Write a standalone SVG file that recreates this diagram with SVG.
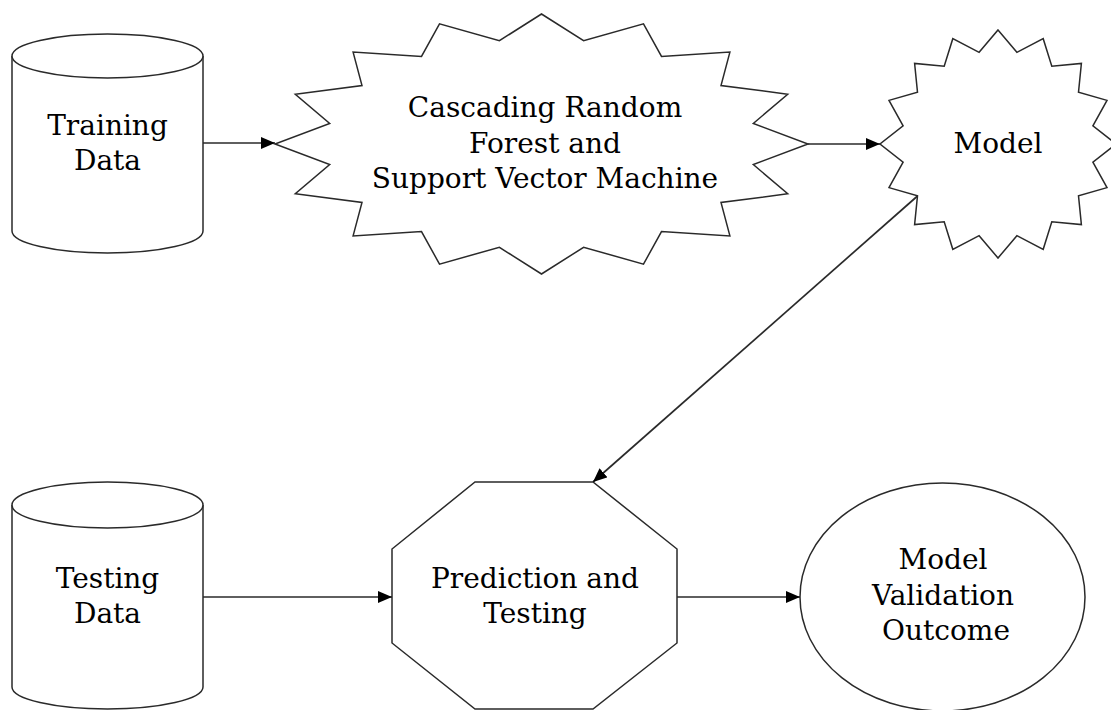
<svg xmlns="http://www.w3.org/2000/svg" width="1111" height="710" viewBox="0 0 1111 710">
<defs>
<style>
.shape{fill:#fff;stroke:#2a2a2a;stroke-width:1.5}
.lbl{font-family:"DejaVu Serif","Liberation Serif",serif;font-size:28px;fill:#000;text-anchor:middle}
.conn{fill:none;stroke:#2a2a2a;stroke-width:1.7}
</style>
<marker id="arr" markerUnits="userSpaceOnUse" markerWidth="14" markerHeight="12" viewBox="0 0 14 12" refX="14" refY="6" orient="auto">
<path d="M0,0 L14,6 L0,12 Z" fill="#000"/>
</marker>
</defs>
<rect width="1111" height="710" fill="#fff"/>
<g id="training-data">
<path class="shape" d="M12,56 L12,231 A95.5,22 0 0 0 203,231 L203,56"/>
<ellipse class="shape" cx="107.5" cy="56" rx="95.5" ry="22"/>
<text class="lbl" x="107.5" y="135">Training</text>
<text class="lbl" x="107.5" y="170">Data</text>
</g>
<g id="crf-svm">
<polygon class="shape" points="541.5,14 583.6,40.7 643.5,23.9 661.5,56.4 729.9,52.1 721,85.5 787.7,94.2 753.3,123.5 808,144 753.3,164.5 787.7,193.8 721,202.5 729.9,235.9 661.5,231.6 643.5,264.1 583.6,247.3 541.5,274 499.4,247.3 439.5,264.1 421.5,231.6 353.1,235.9 362,202.5 295.3,193.8 329.7,164.5 275,144 329.7,123.5 295.3,94.2 362,85.5 353.1,52.1 421.5,56.4 439.5,23.9 499.4,40.7"/>
<text class="lbl" x="545" y="117">Cascading Random</text>
<text class="lbl" x="545" y="153">Forest and</text>
<text class="lbl" x="545" y="188">Support Vector Machine</text>
</g>
<g id="model">
<polygon class="shape" points="998,30 1016.9,52.3 1043.2,38.7 1051.8,66.3 1081.4,63.4 1078.5,92.1 1107,100.4 1092.9,125.8 1116,144 1092.9,162.2 1107,187.6 1078.5,195.9 1081.4,224.6 1051.8,221.7 1043.2,249.3 1016.9,235.7 998,258 979.1,235.7 952.8,249.3 944.2,221.7 914.6,224.6 917.5,195.9 889,187.6 903.1,162.2 880,144 903.1,125.8 889,100.4 917.5,92.1 914.6,63.4 944.2,66.3 952.8,38.7 979.1,52.3"/>
<text class="lbl" x="998" y="153">Model</text>
</g>
<g id="testing-data">
<path class="shape" d="M12,505 L12,687 A95.5,22 0 0 0 203,687 L203,505"/>
<ellipse class="shape" cx="107.5" cy="505" rx="95.5" ry="23"/>
<text class="lbl" x="107.5" y="588">Testing</text>
<text class="lbl" x="107.5" y="623">Data</text>
</g>
<g id="prediction-testing">
<polygon class="shape" points="475,482 593,482 677,549 677,643 593,709 475,709 392,643 392,549"/>
<text class="lbl" x="535" y="588">Prediction and</text>
<text class="lbl" x="535" y="623">Testing</text>
</g>
<g id="validation-outcome">
<ellipse class="shape" cx="942.5" cy="597" rx="142.5" ry="114"/>
<text class="lbl" x="943" y="569">Model</text>
<text class="lbl" x="943" y="605">Validation</text>
<text class="lbl" x="946" y="640">Outcome</text>
</g>
<g id="connectors">
<line class="conn" x1="203" y1="143" x2="275" y2="143" marker-end="url(#arr)"/>
<line class="conn" x1="808" y1="144" x2="880" y2="144" marker-end="url(#arr)"/>
<line class="conn" x1="917.5" y1="196" x2="593" y2="482" marker-end="url(#arr)"/>
<line class="conn" x1="203" y1="597" x2="392" y2="597" marker-end="url(#arr)"/>
<line class="conn" x1="677" y1="597" x2="800" y2="597" marker-end="url(#arr)"/>
</g>
</svg>
